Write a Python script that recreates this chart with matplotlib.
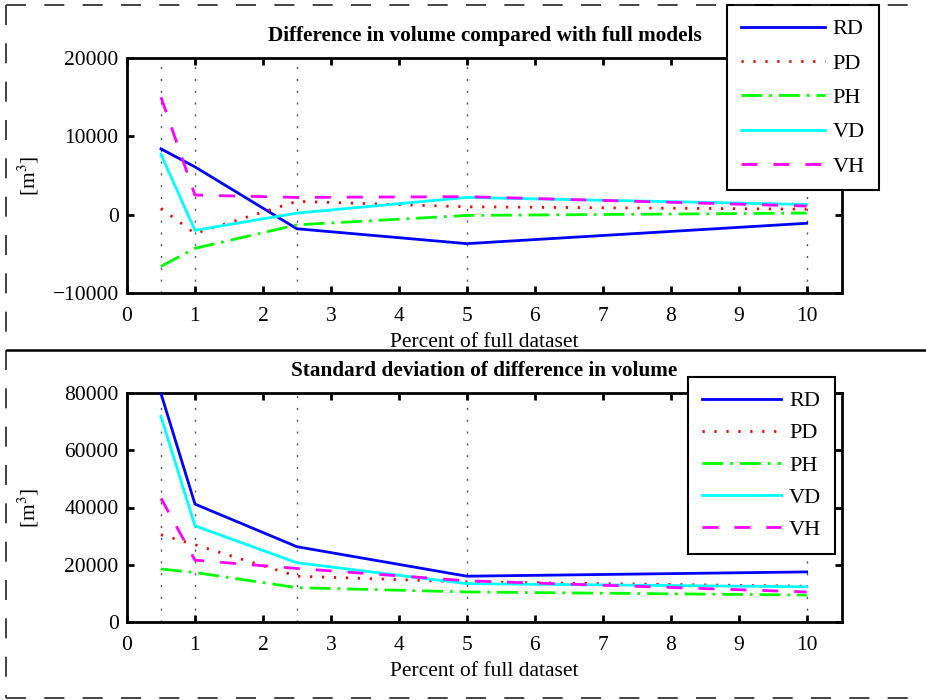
import matplotlib
matplotlib.use('Agg')
import matplotlib.pyplot as plt
from matplotlib.lines import Line2D

plt.rcParams['font.family'] = ['Liberation Serif', 'DejaVu Serif']
plt.rcParams['mathtext.fontset'] = 'stix'

percent = [0.5, 1, 2.5, 5, 10]
names = ['RD', 'PD', 'PH', 'VD', 'VH']

diff_rd = [8400, 6100, -1800, -3700, -1100]
diff_pd = [800, -2400, 1700, 1000, 700]
diff_ph = [-6600, -4300, -1300, -100, 200]
diff_vd = [7700, -2000, 200, 2200, 1300]
diff_vh = [15000, 2500, 2200, 2300, 1100]

std_rd = [79800, 41200, 26300, 16000, 17500]
std_pd = [30500, 27000, 16000, 14000, 12500]
std_ph = [18500, 17300, 12000, 10500, 9400]
std_vd = [71800, 33600, 20700, 13400, 12300]
std_vh = [43200, 21600, 18700, 14400, 10500]

x_ticks = list(range(0, 11))
diff_yticks = [-10000, 0, 10000, 20000]
std_yticks = [0, 20000, 40000, 60000, 80000]

colors = ['#0000ff', '#ff0000', '#00ff00', '#00ffff', '#ff00ff']
styles = ['-', (0, (0.8, 3.5)), (0, (7.5, 2.5, 1, 2.5)), '-', (0, (5.75, 5.75))]

W, H = 926, 700
FS = 15.5


def px_rect(left, top, right, bottom):
    return [left / W, 1 - bottom / H, (right - left) / W, (bottom - top) / H]


def draw_panel(ax, series, title, yticks, ylim, legend_xy, spacing, hlen):
    for xv in percent:
        ax.axvline(xv, color='#555555', lw=1.0, ls=(0, (1.5, 7)), zorder=1)
    handles = []
    for vals, c, ls, name in zip(series, colors, styles, names):
        h, = ax.plot(percent, vals, color=c, ls=ls, lw=2.0, label=name, zorder=3)
        handles.append(h)
    ax.set_xlim(0, 10.52)
    ax.set_ylim(*ylim)
    ax.set_xticks(x_ticks)
    ax.set_yticks(yticks)
    ax.set_yticklabels(['\u2212' + str(-v) if v < 0 else str(v) for v in yticks])
    ax.tick_params(direction='in', top=True, right=True, length=5, width=2.0, labelsize=FS)
    ax.tick_params(axis='x', pad=10)
    ax.tick_params(axis='y', pad=6)
    for sp in ax.spines.values():
        sp.set_linewidth(2.0)
    ax.set_title(title, fontsize=15.3, fontweight='bold', pad=12)
    ax.set_xlabel('Percent of full dataset', fontsize=FS, labelpad=5)
    ax.set_ylabel('[m$^3$]', fontsize=FS)
    ax.yaxis.set_label_coords(-0.12, 0.5)
    leg = ax.legend(handles=handles, loc='upper left', bbox_to_anchor=(legend_xy[0] / W, 1 - legend_xy[1] / H),
                    bbox_transform=ax.figure.transFigure, borderaxespad=0, fontsize=16, fancybox=False,
                    framealpha=1, edgecolor='black', handlelength=hlen, handletextpad=0.36,
                    labelspacing=spacing, borderpad=0.62)
    leg.get_frame().set_linewidth(1.5)
    leg.set_zorder(10)


fig = plt.figure(figsize=(W / 100, H / 100), dpi=100)

ax1 = fig.add_axes(px_rect(127, 58, 842, 293))
draw_panel(ax1, [diff_rd, diff_pd, diff_ph, diff_vd, diff_vh],
           'Difference in volume compared with full models', diff_yticks, (-10000, 20000), (727, 5), 0.62, 3.78)

ax2 = fig.add_axes(px_rect(127, 393, 842, 622))
draw_panel(ax2, [std_rd, std_pd, std_ph, std_vd, std_vh],
           'Standard deviation of difference in volume', std_yticks, (0, 80000), (688, 377), 0.52, 3.56)

# dashed frame and separator
dash = dict(color='#222222', lw=1.2, ls=(0, (12, 11)), transform=fig.transFigure)
fig.add_artist(Line2D([6 / W, 1], [1 - 5 / H, 1 - 5 / H], **dash))
fig.add_artist(Line2D([6 / W, 6 / W], [1 - 5 / H, 1 - 698 / H], **dash))
fig.add_artist(Line2D([6 / W, 1], [1 - 698 / H, 1 - 698 / H], **dash))
fig.add_artist(Line2D([7 / W, 1], [1 - 350 / H, 1 - 350 / H], color='black', lw=1.8, transform=fig.transFigure))

fig.savefig('out.png', dpi=100)
